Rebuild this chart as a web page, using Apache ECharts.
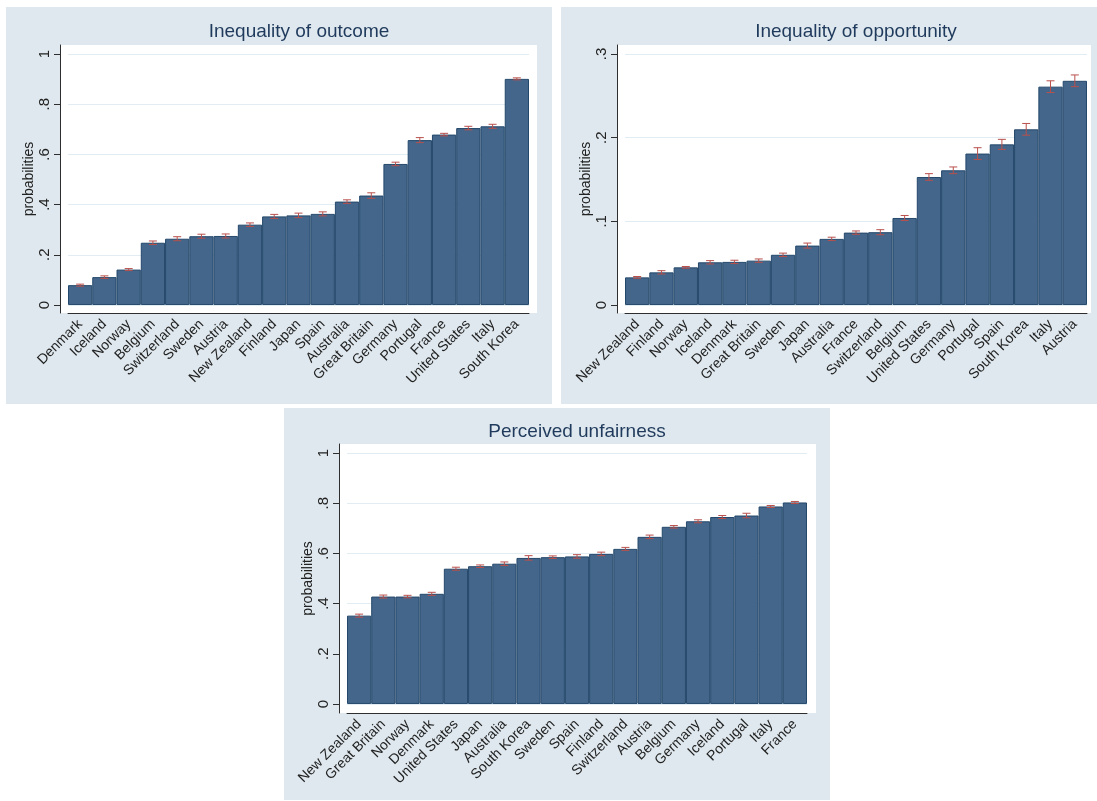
<!DOCTYPE html>
<html>
<head>
<meta charset="utf-8">
<script src="https://cdn.jsdelivr.net/npm/echarts@6/dist/echarts.min.js"></script>
<style>
  body { margin: 0; background: #ffffff; width: 1097px; height: 801px; position: relative; overflow: hidden; }
  .panel { position: absolute; }
  #outcome { left: 6px; top: 7px; width: 546px; height: 397px; }
  #opportunity { left: 561px; top: 7px; width: 536px; height: 397px; }
  #unfair { left: 284px; top: 408px; width: 546px; height: 392px; }
</style>
</head>
<body>
<div class="panel" id="outcome"></div>
<div class="panel" id="opportunity"></div>
<div class="panel" id="unfair"></div>
<script>
// Inequality of outcome
const outcomeCountries = ["Denmark", "Iceland", "Norway", "Belgium", "Switzerland", "Sweden", "Austria",
  "New Zealand", "Finland", "Japan", "Spain", "Australia", "Great Britain", "Germany", "Portugal",
  "France", "United States", "Italy", "South Korea"];
const outcomeValues = [0.079, 0.111, 0.141, 0.248, 0.264, 0.274, 0.275, 0.320, 0.353, 0.357, 0.363,
  0.412, 0.436, 0.562, 0.657, 0.679, 0.705, 0.712, 0.901];
const outcomeErr = [0.004, 0.005, 0.004, 0.007, 0.008, 0.008, 0.008, 0.007, 0.008, 0.009, 0.008,
  0.007, 0.011, 0.007, 0.010, 0.005, 0.007, 0.008, 0.004];

// Inequality of opportunity
const opportunityCountries = ["New Zealand", "Finland", "Norway", "Iceland", "Denmark", "Great Britain",
  "Sweden", "Japan", "Australia", "France", "Switzerland", "Belgium", "United States", "Germany",
  "Portugal", "Spain", "South Korea", "Italy", "Austria"];
const opportunityValues = [0.033, 0.039, 0.045, 0.051, 0.0515, 0.053, 0.060, 0.071, 0.079, 0.0865,
  0.087, 0.104, 0.153, 0.161, 0.181, 0.192, 0.210, 0.261, 0.268];
const opportunityErr = [0.001, 0.002, 0.001, 0.002, 0.002, 0.002, 0.002, 0.003, 0.002, 0.002,
  0.003, 0.003, 0.004, 0.004, 0.007, 0.006, 0.007, 0.007, 0.007];

// Perceived unfairness
const unfairCountries = ["New Zealand", "Great Britain", "Norway", "Denmark", "United States", "Japan",
  "Australia", "South Korea", "Sweden", "Spain", "Finland", "Switzerland", "Austria", "Belgium",
  "Germany", "Iceland", "Portugal", "Italy", "France"];
const unfairValues = [0.352, 0.428, 0.428, 0.439, 0.539, 0.549, 0.559, 0.582, 0.585, 0.588, 0.598,
  0.618, 0.666, 0.706, 0.728, 0.745, 0.751, 0.787, 0.803];
const unfairErr = [0.006, 0.006, 0.005, 0.006, 0.006, 0.005, 0.007, 0.009, 0.005, 0.007, 0.007,
  0.006, 0.007, 0.005, 0.006, 0.006, 0.009, 0.004, 0.004];

// tick labels
const unitTicks = [0, 0.2, 0.4, 0.6, 0.8, 1];
const oppTicks = [0, 0.1, 0.2, 0.3];

const barColor = "#43668a";
const errColor = "#b8504c";
const axisColor = "#2e2e2e";

function fmtTick(v) {
  if (v === 0) return "0";
  return String(Math.round(v * 10) / 10).replace(/^0/, "");
}

function errRender(params, api) {
  const x = api.value(0);
  const lo = api.coord([x, api.value(1)]);
  const hi = api.coord([x, api.value(2)]);
  const w = 4;
  const st = { stroke: errColor, lineWidth: 1 };
  return {
    type: "group",
    children: [
      { type: "line", shape: { x1: hi[0], y1: hi[1], x2: lo[0], y2: lo[1] }, style: st },
      { type: "line", shape: { x1: hi[0] - w, y1: hi[1], x2: hi[0] + w, y2: hi[1] }, style: st },
      { type: "line", shape: { x1: lo[0] - w, y1: lo[1], x2: lo[0] + w, y2: lo[1] }, style: st },
    ],
  };
}

function drawPanel(id, cfg) {
  let myChart = echarts.init(document.getElementById(id));
  let errData = cfg.values.map((v, i) => [i, v - cfg.err[i], v + cfg.err[i]]);
  let option = {
    backgroundColor: "#dfe8ee",
    animation: false,
    textStyle: { fontFamily: "Liberation Sans, Arial, sans-serif" },
    title: {
      text: cfg.title,
      left: cfg.titleX,
      top: cfg.titleY,
      textAlign: "center",
      textStyle: { color: "#1f3a5c", fontSize: 19, fontWeight: "normal", fontFamily: "Liberation Sans, Arial, sans-serif" },
    },
    graphic: [
      {
        type: "rect",
        z: -1,
        shape: cfg.plotRect,
        style: { fill: "#ffffff" },
      },
    ],
    grid: cfg.grid,
    xAxis: {
      type: "category",
      data: cfg.countries,
      boundaryGap: true,
      axisLine: { onZero: false, lineStyle: { color: axisColor, width: 1 } },
      axisTick: { alignWithLabel: true, length: 6, lineStyle: { color: axisColor } },
      axisLabel: { interval: 0, rotate: 45, margin: 9, fontSize: 14, color: "#222" },
      splitLine: { show: false },
    },
    yAxis: {
      type: "value",
      min: cfg.min,
      max: cfg.max,
      offset: cfg.offset,
      name: "probabilities",
      nameLocation: "middle",
      nameGap: 24,
      nameRotate: 90,
      nameMoveOverlap: false,
      nameTextStyle: { fontSize: 14, color: "#222" },
      axisLine: { show: true, lineStyle: { color: axisColor, width: 1 } },
      axisTick: { show: true, length: 6, customValues: cfg.ticks, lineStyle: { color: axisColor } },
      axisLabel: { rotate: 90, margin: 8, fontSize: 15, color: "#222", customValues: cfg.ticks, formatter: fmtTick },
      splitLine: { show: true, lineStyle: { color: "#e2ecf3", width: 1 } },
    },
    series: [
      {
        type: "bar",
        data: cfg.values,
        barCategoryGap: "0%",
        itemStyle: { color: barColor, borderColor: "#24486b", borderWidth: 1 },
      },
      {
        type: "custom",
        renderItem: errRender,
        data: errData,
        z: 5,
      },
    ],
  };
  myChart.setOption(option);
}

drawPanel("outcome", {
  title: "Inequality of outcome",
  titleX: 288, titleY: 10,
  countries: outcomeCountries, values: outcomeValues, err: outcomeErr,
  ticks: unitTicks, min: -0.032, max: 1.036, offset: 8,
  grid: { left: 62, top: 38, width: 461, height: 268 },
  plotRect: { x: 55, y: 38, width: 476, height: 268 },
});

drawPanel("opportunity", {
  title: "Inequality of opportunity",
  titleX: 290, titleY: 10,
  countries: opportunityCountries, values: opportunityValues, err: opportunityErr,
  ticks: oppTicks, min: -0.0096, max: 0.3108, offset: 8,
  grid: { left: 64, top: 38, width: 462, height: 268 },
  plotRect: { x: 56, y: 38, width: 474, height: 268 },
});

drawPanel("unfair", {
  title: "Perceived unfairness",
  titleX: 288, titleY: 9,
  countries: unfairCountries, values: unfairValues, err: unfairErr,
  ticks: unitTicks, min: -0.036, max: 1.036, offset: 8,
  grid: { left: 63, top: 36, width: 460, height: 269 },
  plotRect: { x: 55, y: 36, width: 477, height: 269 },
});
</script>
</body>
</html>
